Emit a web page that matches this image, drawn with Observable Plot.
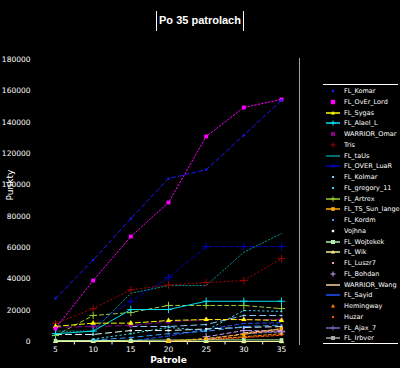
<!DOCTYPE html>
<html><head><meta charset="utf-8">
<script src="https://cdn.jsdelivr.net/npm/d3@7"></script>
<script src="https://cdn.jsdelivr.net/npm/@observablehq/plot@0.6"></script>
<style>
html,body{margin:0;padding:0;background:#000;}
#wrap{position:relative;width:400px;height:368px;background:#000;overflow:hidden;font-family:"DejaVu Sans",sans-serif;color:#fff;}
#title{position:absolute;top:9px;left:0;width:400px;text-align:center;}
#title span{display:inline-block;border-left:1px solid #fff;border-right:1px solid #fff;padding:2px 2px 3px 2px;font:bold 11px "Liberation Sans",sans-serif;line-height:15px;}
#chart{position:absolute;top:38px;left:0;}
#vline{position:absolute;left:299px;top:58px;width:1px;height:287px;background:#a0a0a0;}
#legend{position:absolute;left:323px;top:84px;width:75px;height:258px;border-top:1px solid #fff;border-bottom:1px solid #fff;}
.row{position:absolute;left:2px;height:10px;display:flex;align-items:center;font:6.5px "DejaVu Sans",sans-serif;white-space:nowrap;color:#fff;}
.row svg{margin-right:3px;}
</style></head>
<body>
<div id="wrap">
  <div id="title"><span>Po 35 patrolach</span></div>
  <div id="chart"></div>
  <div id="vline"></div>
  <div id="legend"></div>
</div>
<script>
const patrole = [5, 10, 15, 20, 25, 30, 35];
const minorTicks = [7.5, 12.5, 17.5, 22.5, 27.5, 32.5];
const yTicks = [0, 20000, 40000, 60000, 80000, 100000, 120000, 140000, 160000, 180000];

const names = ["FL_Komar","FL_OvEr_Lord","FL_Sygas","FL_Alael_L","WARRIOR_Omar","Tris","FL_taUs","FL_OVER_LuaR","FL_Kolmar","FL_gregory_11","FL_Artrex","FL_TS_Sun_lange","FL_Kordm","Vojhna","FL_Wojtekek","FL_Wik","FL_Luszr7","FL_Bohdan","WARRIOR_Wang","FL_Sayid","Hemingway","Huzar","FL_Ajax_7","FL_Irbver"];

const komar      = [27400, 52000, 78500, 104000, 109700, 131600, 154000];
const overLord   = [8300, 38900, 67000, 88700, 130900, 149400, 154500];
const sygas      = [9600, 11700, 11700, 13400, 14000, 14000, 13400];
const alael      = [5000, 6600, 20400, 20400, 25700, 25700, 25700];
const omar       = [9000, 9600, 10200, 12500, 14000, 14000, 14000];
const tris       = [11500, 21000, 33000, 36000, 37600, 38900, 53000];
const taus       = [6600, 6600, 30800, 35700, 35700, 57000, 68900];
const overLuar   = [null, 10000, 25700, 40800, 60600, 60600, 60600];
const kolmar     = [null, null, 9600, 9600, 10800, 16600, 16600];
const gregory    = [null, 1500, 5000, 9000, 7000, 19800, 19200];
const artrex     = [3800, 16600, 18500, 23000, 23000, 23000, 21000];
const sunLange   = [null, null, null, 300, 2000, 4500, 8300];
const kordm      = [null, 1000, 2500, 5000, 6500, 9500, 10500];
const vojhna     = [4500, 4500, 7000, 7000, 8000, 9000, 9500];
const wojtekek   = [600, 600, 700, 900, 1000, 1000, 1000];
const wik        = [0, 0, 0, 0, 0, 0, 0];
const luszr      = [null, null, null, null, 1500, 5000, 7000];
const bohdan     = [null, null, null, null, 3000, 7000, 6600];
const wang       = [null, null, null, null, null, 5500, 8000];
const sayid      = [null, null, 300, 3500, 7700, 11500, 12000];
const hemingway  = [null, null, null, 0, 1500, 3000, 5000];
const huzar      = [null, null, null, null, 1000, 2500, 4000];
const ajax       = [null, null, null, null, null, 5000, 6000];
const irbver     = [null, null, null, null, null, 0, 0];

const seriesValues = [komar, overLord, sygas, alael, omar, tris, taus, overLuar, kolmar, gregory, artrex, sunLange, kordm, vojhna, wojtekek, wik, luszr, bohdan, wang, sayid, hemingway, huzar, ajax, irbver];

// styles (colour, marker symbol, dash pattern, whether legend shows a line)
const styles = [
  {c:"#1a1aff", s:"square", r:1.2, d:"4,3", l:false},
  {c:"#ff00ff", s:"square", r:2.2, d:"1.5,2", l:false},
  {c:"#ffff00", s:"triangle", r:2, d:"5,3", l:true},
  {c:"#00e0f0", s:"plus", r:2.5, d:null, l:true},
  {c:"#8a008a", s:"square", r:2, d:"6,4", l:false},
  {c:"#a00000", s:"plus", r:2.5, d:"1.5,2.5", l:false},
  {c:"#009090", s:null, r:0, d:"1.5,2", l:true},
  {c:"#0000c0", s:"plus", r:2.5, d:"4,3", l:true},
  {c:"#87cefa", s:"square", r:1, d:"6,4", l:false},
  {c:"#40d8e8", s:"square", r:1, d:"1.5,3", l:false},
  {c:"#9acd32", s:"plus", r:2.5, d:"4,3", l:true},
  {c:"#ffaa00", s:"square", r:1.8, d:"3,3", l:true},
  {c:"#3399ff", s:"square", r:1, d:"5,4", l:false},
  {c:"#e8ffff", s:"square", r:1.2, d:"6,4", l:false},
  {c:"#b0f0b0", s:"square", r:2, d:null, l:true},
  {c:"#f4f090", s:"triangle", r:2, d:null, l:true},
  {c:"#ff9ec8", s:"square", r:1, d:"3,3", l:false},
  {c:"#c8a0ff", s:"plus", r:2.5, d:"4,3", l:false},
  {c:"#ffd0a0", s:null, r:0, d:"4,2", l:true},
  {c:"#2050ff", s:null, r:0, d:"4,3", l:true},
  {c:"#ff8c00", s:"triangle", r:1.8, d:"3,2", l:false},
  {c:"#ff5000", s:"square", r:1, d:"3,2", l:false},
  {c:"#6a6ab8", s:"plus", r:2.5, d:"3,2", l:true},
  {c:"#a8a8a8", s:"square", r:2, d:null, l:true}
];

const rows = [];
names.forEach((n, i) => seriesValues[i].forEach((v, j) => {
  if (v !== null) rows.push({name: n, idx: i, patrol: patrole[j], punkty: v});
}));

const marks = [];
for (let i = names.length - 1; i >= 0; i--) {
  const st = styles[i];
  const data = rows.filter(r => r.idx === i);
  marks.push(Plot.line(data, {x: "patrol", y: "punkty", stroke: st.c, strokeWidth: 1, strokeDasharray: st.d || undefined}));
  if (st.s) {
    if (st.s === "plus") marks.push(Plot.dot(data, {x: "patrol", y: "punkty", symbol: "plus", r: st.r, stroke: st.c, strokeWidth: 1}));
    else marks.push(Plot.dot(data, {x: "patrol", y: "punkty", symbol: st.s, r: st.r, fill: st.c, stroke: "none"}));
  }
}

const chart = Plot.plot({
  width: 400, height: 330,
  marginLeft: 55, marginRight: 119, marginTop: 21, marginBottom: 27,
  style: {background: "black", color: "white", fontFamily: "DejaVu Sans"},
  x: {domain: [5, 35], axis: null},
  y: {domain: [0, 180000], axis: null},
  marks: [
    Plot.axisX({ticks: patrole, tickFormat: d => String(d), tickSize: 0, tickPadding: 5, fontSize: 7.5, label: null}),
    Plot.axisY({ticks: yTicks, tickFormat: d => String(d), tickSize: 0, tickPadding: 25, fontSize: 7.5, label: null}),
    Plot.ruleX(minorTicks, {x: d => d, y1: 0, y2: -2200, stroke: "white", strokeWidth: 1}),
    Plot.text(["Punkty"], {frameAnchor: "left", text: d => d, rotate: -90, dx: -45, fontSize: 9, fill: "white"}),
    Plot.text(["Patrole"], {frameAnchor: "bottom", text: d => d, dy: 21, fontSize: 9, fontWeight: "bold", fill: "white"}),
    ...marks
  ]
});
document.getElementById("chart").appendChild(chart);

const leg = document.getElementById("legend");
names.forEach((n, i) => {
  const st = styles[i];
  let sw = `<svg width="16" height="8">`;
  if (st.l) sw += `<line x1="1" x2="15" y1="4" y2="4" stroke="${st.c}" stroke-width="1.5"/>`;
  if (st.s === "plus") sw += `<path d="M8,1.5V6.5M5.5,4H10.5" stroke="${st.c}" stroke-width="1"/>`;
  else if (st.s === "triangle") sw += `<path d="M8,2L10,5.5H6Z" fill="${st.c}"/>`;
  else if (st.s) sw += `<rect x="${8 - Math.max(1, st.r)}" y="${4 - Math.max(1, st.r)}" width="${2*Math.max(1, st.r)}" height="${2*Math.max(1, st.r)}" fill="${st.c}"/>`;
  sw += `</svg>`;
  const row = document.createElement("div");
  row.className = "row";
  row.style.top = (1 + i * 10.75) + "px";
  row.innerHTML = sw + `<span>${n}</span>`;
  leg.appendChild(row);
});
</script>
</body></html>
